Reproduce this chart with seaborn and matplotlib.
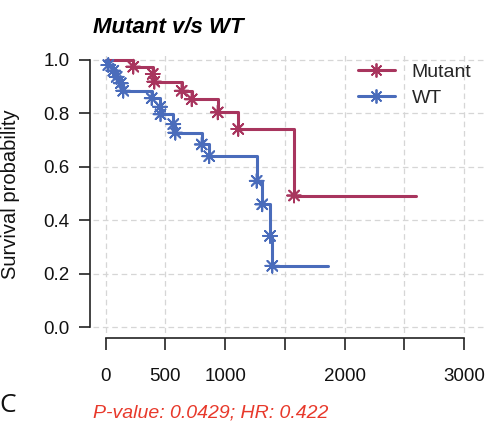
import numpy as np
import pandas as pd
import matplotlib
matplotlib.use("Agg")
import matplotlib.pyplot as plt
from matplotlib.lines import Line2D
import seaborn as sns

# ---- data ----
groups = ["Mutant", "WT"]
mutant_times = [231, 394, 407, 636, 720, 938, 1110, 1577]
mutant_surv = [0.975, 0.948, 0.919, 0.885, 0.853, 0.804, 0.742, 0.493]
mutant_end = 2598
wt_times = [22, 64, 92, 126, 147, 385, 455, 459, 566, 583, 804, 867, 1264, 1311, 1376, 1395]
wt_surv = [0.981, 0.960, 0.937, 0.913, 0.885, 0.857, 0.825, 0.797, 0.760, 0.728,
           0.684, 0.640, 0.548, 0.460, 0.342, 0.230]
wt_end = 1864
xticks = [0, 500, 1000, 1500, 2000, 2500, 3000]
xtick_labels = ["0", "500", "1000", "", "2000", "", "3000"]
yticks = [0.0, 0.2, 0.4, 0.6, 0.8, 1.0]
ytick_labels = ["0.0", "0.2", "0.4", "0.6", "0.8", "1.0"]
colors = {"Mutant": "#A8355E", "WT": "#4A6CBB"}

# step curves
rows = []
marks = []
for g, ts, ss, end in [("Mutant", mutant_times, mutant_surv, mutant_end),
                       ("WT", wt_times, wt_surv, wt_end)]:
    rows.append((g, 0, 1.0, 0))
    for i, (t, s) in enumerate(zip(ts, ss)):
        rows.append((g, t, s, i + 1))
        marks.append((g, t, s))
    rows.append((g, end, ss[-1], len(ts) + 1))
curve = pd.DataFrame(rows, columns=["group", "time", "surv", "order"])
mk = pd.DataFrame(marks, columns=["group", "time", "surv"])

sns.set_style("white")
plt.rcParams["font.family"] = ["Liberation Sans", "DejaVu Sans"]

W, H = 489, 426
fig = plt.figure(figsize=(W / 100, H / 100), dpi=100)
ax_l, ax_r, ax_b, ax_t = 92.5, 486, 333, 53
ax = fig.add_axes([ax_l / W, (H - ax_b) / H, (ax_r - ax_l) / W, (ax_b - ax_t) / H])

px_per_unit = 358.3 / 3000
x0px = 105.7
ax.set_xlim((ax_l - x0px) / px_per_unit, (ax_r - x0px) / px_per_unit)
y0px, yscale = 327.3, 267.3
ax.set_ylim((y0px - ax_b) / yscale, (y0px - ax_t) / yscale)

ax.grid(True, color="#D6D6D6", linestyle=(0, (4.5, 3)), linewidth=0.9)
ax.set_axisbelow(True)

for g in groups:
    sub = curve[curve["group"] == g]
    sns.lineplot(data=sub, x="time", y="surv", color=colors[g], linewidth=2.2,
                 drawstyle="steps-post", estimator=None, sort=False, ax=ax, legend=False)
sns.scatterplot(data=mk, x="time", y="surv", hue="group", palette=colors,
                marker=(8, 2, 0), s=100, linewidth=1.3, ax=ax, legend=False, zorder=3)

ax.set_xticks(xticks)
ax.set_xticklabels(xtick_labels)
ax.set_yticks(yticks)
ax.set_yticklabels(ytick_labels)
ax.spines["top"].set_visible(False)
ax.spines["right"].set_visible(False)
ax.spines["left"].set_position(("outward", 1.5))
ax.spines["bottom"].set_position(("outward", 3.6))
ax.spines["left"].set_bounds(0, 1)
ax.spines["bottom"].set_bounds(0, 3000)
for sp in ("left", "bottom"):
    ax.spines[sp].set_color("#222222")
    ax.spines[sp].set_linewidth(1.2)
ax.tick_params(axis="x", direction="out", length=8.6, width=1.2, color="#222222",
               pad=13, labelsize=13.5, labelcolor="#111111", bottom=True)
ax.tick_params(axis="y", direction="out", length=8, width=1.2, color="#222222",
               pad=7, labelsize=13.5, labelcolor="#111111", left=True)
ax.set_xlabel("")
ax.set_ylabel("Survival probability", fontsize=14.5, color="#111111")
ax.yaxis.set_label_coords(20 / W, (H - 194) / H, transform=fig.transFigure)

handles = [Line2D([], [], color=colors[g], lw=2.2, marker=(8, 2, 0), ms=10, mew=1.3)
           for g in groups]
fig.legend(handles=handles, labels=groups, loc="upper left",
           bbox_to_anchor=(358 / W, (H - 63) / H), frameon=False, fontsize=14,
           handlelength=1.9, handletextpad=0.85, labelspacing=0.45,
           borderpad=0, borderaxespad=0)

fig.text(93 / W, (H - 33) / H, "Mutant v/s WT", fontsize=16, fontweight="bold",
         fontstyle="italic", ha="left", va="baseline", color="#000000")
fig.text(93 / W, (H - 413) / H, "P-value: 0.0429; HR: 0.422", fontsize=14,
         fontstyle="italic", color="#E8392B", ha="left", va="center")
fig.text(-1 / W, (H - 406) / H, "C", fontsize=19, family="Open Sans",
         ha="left", va="center", color="#111111")

fig.savefig("out.png", dpi=100)
